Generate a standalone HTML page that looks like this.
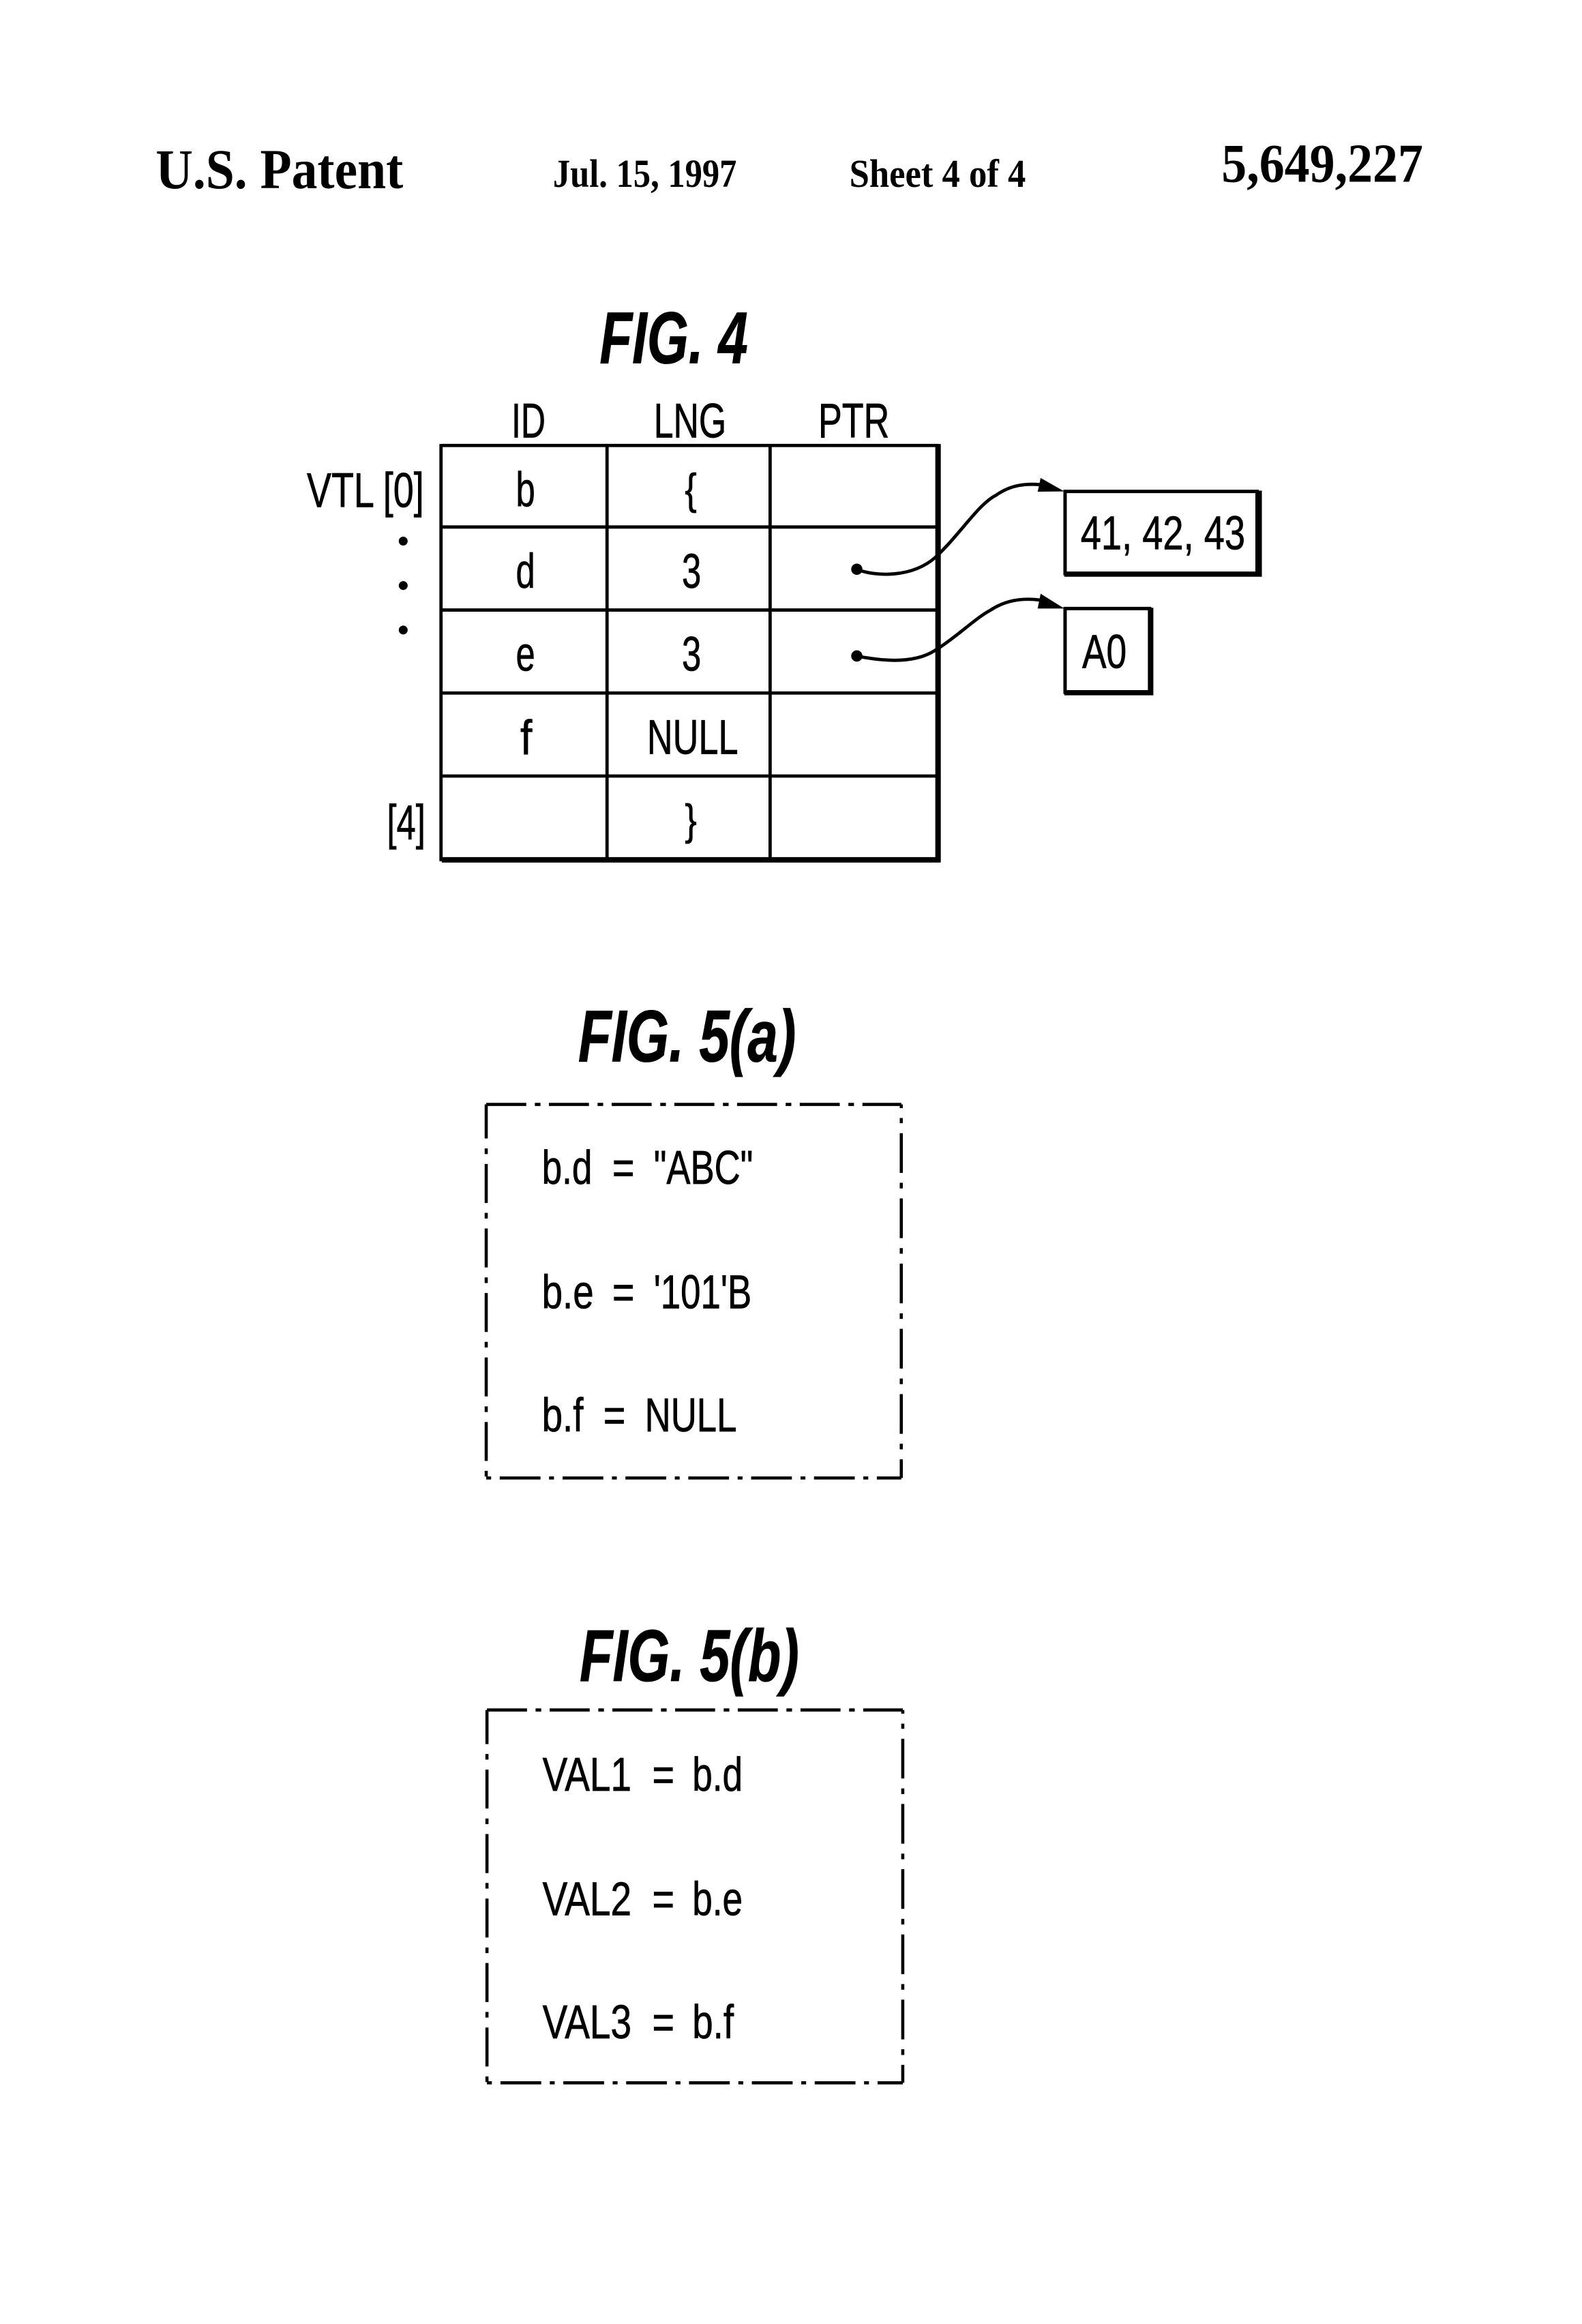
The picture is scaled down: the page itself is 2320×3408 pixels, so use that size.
<!DOCTYPE html>
<html><head><meta charset="utf-8">
<style>
html,body{margin:0;padding:0;background:#fff}
svg{display:block}
.se{font-family:"Liberation Serif",serif;font-weight:bold}
.sa{font-family:"Liberation Sans",sans-serif;font-size:33px;stroke:#000;stroke-width:.35px}
.sb{font-family:"Liberation Sans",sans-serif;font-size:32px;stroke:#000;stroke-width:.35px}
.fg{font-family:"Liberation Sans",sans-serif;font-weight:bold;font-style:italic;font-size:49.5px;stroke:#000;stroke-width:.4px}
</style></head><body>
<svg xmlns="http://www.w3.org/2000/svg" width="2320" height="3408" viewBox="0 0 1067.2 1567.7" fill="#000">
<rect width="1068" height="1568" fill="#fff"/>
<text class="se" x="105" y="127" font-size="38" textLength="167" lengthAdjust="spacingAndGlyphs">U.S. Patent</text>
<text class="se" x="373" y="126" font-size="27" textLength="124" lengthAdjust="spacingAndGlyphs">Jul. 15, 1997</text>
<text class="se" x="573" y="126" font-size="27" textLength="119" lengthAdjust="spacingAndGlyphs">Sheet 4 of 4</text>
<text class="se" x="824" y="122.500" font-size="37" textLength="136" lengthAdjust="spacingAndGlyphs">5,649,227</text>

<text class="fg" x="404.500" y="245" textLength="100" lengthAdjust="spacingAndGlyphs">FIG. 4</text>
<text class="sa" x="345" y="295" textLength="23" lengthAdjust="spacingAndGlyphs">ID</text>
<text class="sa" x="441" y="295" textLength="49" lengthAdjust="spacingAndGlyphs">LNG</text>
<text class="sa" x="552" y="295" textLength="48" lengthAdjust="spacingAndGlyphs">PTR</text>

<g fill="none" stroke="#000" stroke-width="2.200">
<path d="M297.500 300.500H633M298 355.500H632M298 411.500H632M298 467.500H632M298.500 523.500H633"/>
<path d="M297.500 299.500V581M409.500 300V580M519.500 300V580"/>
<path d="M632.800 299.500V581.500M298 580H634.500" stroke-width="3.700"/>
</g>
<text class="sa" x="207" y="342" textLength="79" lengthAdjust="spacingAndGlyphs">VTL [0]</text>
<circle cx="272" cy="365" r="3"/><circle cx="272" cy="395" r="3"/><circle cx="272" cy="425" r="3"/>
<text class="sa" x="261" y="566" textLength="26" lengthAdjust="spacingAndGlyphs">[4]</text>

<text class="sa" x="348" y="341.500" textLength="13" lengthAdjust="spacingAndGlyphs">b</text>
<text class="sa" x="462" y="340" font-size="29" style="font-size:29px" textLength="8" lengthAdjust="spacingAndGlyphs">{</text>
<text class="sa" x="348" y="396.500" textLength="13" lengthAdjust="spacingAndGlyphs">d</text>
<text class="sa" x="460" y="396.500" textLength="13" lengthAdjust="spacingAndGlyphs">3</text>
<text class="sa" x="348" y="452.500" textLength="13" lengthAdjust="spacingAndGlyphs">e</text>
<text class="sa" x="460" y="452.500" textLength="13" lengthAdjust="spacingAndGlyphs">3</text>
<text class="sa" x="351" y="509" textLength="8" lengthAdjust="spacingAndGlyphs">f</text>
<text class="sa" x="436.500" y="508.500" textLength="61.500" lengthAdjust="spacingAndGlyphs">NULL</text>
<text class="sa" x="462" y="563" style="font-size:29px" textLength="8" lengthAdjust="spacingAndGlyphs">}</text>

<g fill="none" stroke="#000" stroke-width="2.200">
<path d="M578 384C590 389 615 390 631 376C648 360 660 340 672 334C682 327 692 326 703 327"/>
<path d="M578 442.500C590 445 615 449 631 438.600C645 430 658 417 668 411.700C678 405 690 403 703 405"/>
</g>
<circle cx="578" cy="384" r="3.800"/><circle cx="578" cy="442.500" r="3.800"/>
<path d="M702 322.400L718 331.500L700 331.700Z"/><path d="M702 400.500L718 410.500L700 410.500Z"/>

<rect x="718.500" y="331.500" width="129.500" height="55.500" fill="none" stroke="#000" stroke-width="2.300"/>
<path d="M718 387.300H849.500V331" fill="none" stroke="#000" stroke-width="3.500"/>
<text class="sb" x="729" y="370.500" textLength="111" lengthAdjust="spacingAndGlyphs">41, 42, 43</text>
<rect x="718.500" y="410.500" width="57" height="56.500" fill="none" stroke="#000" stroke-width="2.300"/>
<path d="M718 467.300H776.300V410" fill="none" stroke="#000" stroke-width="3.500"/>
<text class="sb" x="730" y="450.500" textLength="30" lengthAdjust="spacingAndGlyphs">A0</text>

<text class="fg" x="390" y="716" textLength="147" lengthAdjust="spacingAndGlyphs">FIG. 5(a)</text>
<g fill="none" stroke="#000" stroke-width="2.100">
<path d="M328 745H608" stroke-dasharray="27 5.800 3.800 5.700"/>
<path d="M328 745V997" stroke-dasharray="23 6.700 3.800 6.700 26.300 6.700 3.800 6.700 26.300 6.700 3.800 6.700 26.300 6.700 3.800 6.700 26.300 6.700 3.800 6.700 26.300 6.700 3.800 6.700 26.300"/>
<path d="M608 745V997" stroke-dasharray="2.500 6.700 3.500 6.700 26.800 6.700 3.800 6.700 26.800 6.700 3.800 6.700 26.800 6.700 3.800 6.700 26.800 6.700 3.800 6.700 26.800 6.700 3.800 6.700 26.800"/>
<path d="M328 997H608" stroke-dasharray="3.300 5.800 27.500 5.800"/>
</g>
<text class="sb" x="365.500" y="798.500" textLength="34" lengthAdjust="spacingAndGlyphs">b.d</text>
<text class="sb" x="413" y="798.500" textLength="15" lengthAdjust="spacingAndGlyphs">=</text>
<text class="sb" x="441" y="798.500" textLength="67" lengthAdjust="spacingAndGlyphs">"ABC"</text>
<text class="sb" x="365.500" y="882.500" textLength="35" lengthAdjust="spacingAndGlyphs">b.e</text>
<text class="sb" x="413" y="882.500" textLength="15" lengthAdjust="spacingAndGlyphs">=</text>
<text class="sb" x="441" y="882.500" textLength="66" lengthAdjust="spacingAndGlyphs">'101'B</text>
<text class="sb" x="365.500" y="965.500" textLength="28" lengthAdjust="spacingAndGlyphs">b.f</text>
<text class="sb" x="407" y="965.500" textLength="15" lengthAdjust="spacingAndGlyphs">=</text>
<text class="sb" x="435" y="965.500" textLength="62" lengthAdjust="spacingAndGlyphs">NULL</text>

<text class="fg" x="391" y="1134" textLength="148" lengthAdjust="spacingAndGlyphs">FIG. 5(b)</text>
<g fill="none" stroke="#000" stroke-width="2.100">
<path d="M328.500 1153.500H609" stroke-dasharray="27 5.800 3.800 5.700"/>
<path d="M328.500 1153.500V1405" stroke-dasharray="23 6.700 3.800 6.700 26.300 6.700 3.800 6.700 26.300 6.700 3.800 6.700 26.300 6.700 3.800 6.700 26.300 6.700 3.800 6.700 26.300 6.700 3.800 6.700 26.300"/>
<path d="M609 1153.500V1405" stroke-dasharray="2.500 6.700 3.500 6.700 26.800 6.700 3.800 6.700 26.800 6.700 3.800 6.700 26.800 6.700 3.800 6.700 26.800 6.700 3.800 6.700 26.800 6.700 3.800 6.700 26.800"/>
<path d="M328.500 1405H609" stroke-dasharray="3.300 5.800 27.500 5.800"/>
</g>
<text class="sb" x="366" y="1208" textLength="60" lengthAdjust="spacingAndGlyphs">VAL1</text>
<text class="sb" x="440" y="1208" textLength="15" lengthAdjust="spacingAndGlyphs">=</text>
<text class="sb" x="467" y="1208" textLength="34" lengthAdjust="spacingAndGlyphs">b.d</text>
<text class="sb" x="366" y="1292" textLength="60" lengthAdjust="spacingAndGlyphs">VAL2</text>
<text class="sb" x="440" y="1292" textLength="15" lengthAdjust="spacingAndGlyphs">=</text>
<text class="sb" x="467" y="1292" textLength="34" lengthAdjust="spacingAndGlyphs">b.e</text>
<text class="sb" x="366" y="1375" textLength="60" lengthAdjust="spacingAndGlyphs">VAL3</text>
<text class="sb" x="440" y="1375" textLength="15" lengthAdjust="spacingAndGlyphs">=</text>
<text class="sb" x="467" y="1375" textLength="28" lengthAdjust="spacingAndGlyphs">b.f</text>
</svg>
</body></html>
